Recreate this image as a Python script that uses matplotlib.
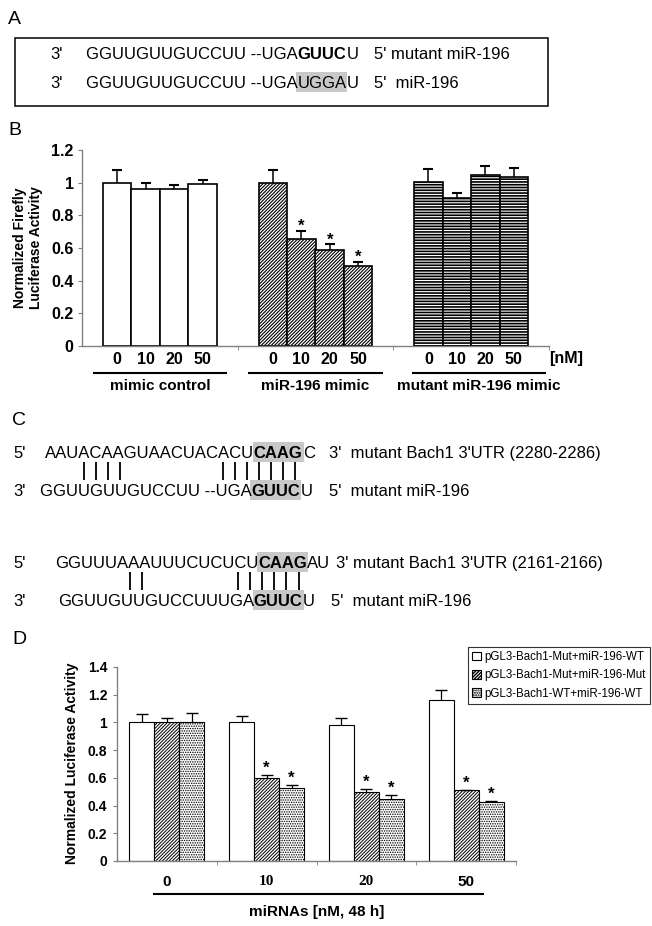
import numpy as np
import matplotlib
matplotlib.use("Agg")
import matplotlib.pyplot as plt
from matplotlib.patches import Rectangle
from matplotlib.font_manager import FontProperties, findfont, get_font

plt.rcParams["font.family"] = ["Liberation Sans", "DejaVu Sans"]
plt.rcParams["hatch.linewidth"] = 1.0

W, H = 652, 926
SHADE = "#c8c8c8"
GREY = "#808080"

# ---- panel A / C sequences: (text, bold, shaded) runs ----
a_mut = [("GGUUGUUGUCCUU --UGA", False, False), ("GUUC", True, False), ("U", False, False)]
a_wt = [("GGUUGUUGUCCUU --UGA", False, False), ("UGGA", False, True), ("U", False, False)]
c1_utr = [("AAUACAAGUAACUACACU", False, False), ("CAAG", True, True), ("C", False, False)]
c1_mir = [("GGUUGUUGUCCUU --UGA", False, False), ("GUUC", True, True), ("U", False, False)]
c2_utr = [("GGUUUAAAUUUCUCUCU", False, False), ("CAAG", True, True), ("AU", False, False)]
c2_mir = [("GGUUGUUGUCCUUUGA", False, False), ("GUUC", True, True), ("U", False, False)]
c1_pair_top = [3, 4, 5, 6, 15, 16, 17, 18, 19, 20, 21]
c1_pair_bot = [3, 4, 5, 6, 16, 17, 18, 19, 20, 21, 22]
c2_pair_top = [6, 7, 15, 16, 17, 18, 19, 20]
c2_pair_bot = [5, 6, 14, 15, 16, 17, 18, 19]

# ---- panel B ----
b_groups = ["mimic control", "miR-196 mimic", "mutant miR-196 mimic"]
b_doses = ["0", "10", "20", "50"]
b_means = [[1.00, 0.963, 0.963, 0.99],
           [1.00, 0.655, 0.586, 0.492],
           [1.006, 0.904, 1.047, 1.035]]
b_err = [[0.08, 0.037, 0.023, 0.026],
         [0.08, 0.051, 0.036, 0.024],
         [0.076, 0.033, 0.057, 0.053]]
b_star = [[0, 0, 0, 0], [0, 1, 1, 1], [0, 0, 0, 0]]

# ---- panel D ----
d_doses = ["0", "10", "20", "50"]
d_series = ["pGL3-Bach1-Mut+miR-196-WT", "pGL3-Bach1-Mut+miR-196-Mut", "pGL3-Bach1-WT+miR-196-WT"]
d_means = [[1.0, 1.0, 0.98, 1.165],
           [1.0, 0.598, 0.50, 0.509],
           [1.0, 0.526, 0.449, 0.425]]
d_err = [[0.064, 0.045, 0.055, 0.072],
         [0.035, 0.022, 0.019, 0.005],
         [0.069, 0.024, 0.029, 0.010]]
d_star = [[0, 0, 0, 0], [0, 1, 1, 1], [0, 1, 1, 1]]


def advances(text, weight, size):
    font = get_font(findfont(FontProperties(family="Liberation Sans", weight=weight)))
    font.set_size(size, 100)
    return [font.load_char(ord(ch)).linearHoriAdvance / 65536 for ch in text]


def seq_line(ax, x, y, runs, size=12):
    centers = []
    for text, bold, shaded in runs:
        weight = "bold" if bold else "normal"
        adv = advances(text, weight, size)
        x0 = x
        ax.text(x, y, text, fontsize=size, fontweight=weight, ha="left", va="baseline")
        for a in adv:
            centers.append(x + a / 2)
            x += a
        if shaded:
            ax.add_patch(Rectangle((x0 - 1, y - 16), x - x0 + 2, 20,
                                   facecolor=SHADE, edgecolor="none", zorder=0))
    return centers


def pair_bars(ax, top, bot, itop, ibot, y0, y1):
    xs = [(top[i] + bot[j]) / 2 for i, j in zip(itop, ibot)]
    ax.vlines(xs, y0, y1, color="black", lw=1.3)


def hatch_lw(patch, lw):
    if hasattr(patch, "set_hatch_linewidth"):
        patch.set_hatch_linewidth(lw)


fig = plt.figure(figsize=(W / 100, H / 100), dpi=100)
ov = fig.add_axes([0, 0, 1, 1])
ov.set_xlim(0, W)
ov.set_ylim(H, 0)
ov.axis("off")
ov.patch.set_alpha(0)

for lab, x, y in [("A", 8, 24), ("B", 8, 135), ("C", 12, 425), ("D", 12, 644)]:
    ov.text(x, y, lab, fontsize=14, ha="left", va="baseline")

# panel A
ov.add_patch(Rectangle((15, 38), 533, 68, fill=False, edgecolor="black", lw=1.1))
ov.text(50, 59, "3'", fontsize=12, va="baseline")
seq_line(ov, 86, 59, a_mut)
ov.text(374, 59, "5' mutant miR-196", fontsize=12, va="baseline")
ov.text(50, 88, "3'", fontsize=12, va="baseline")
seq_line(ov, 86, 88, a_wt)
ov.text(374, 88, "5'  miR-196", fontsize=12, va="baseline")

# panel C
ov.text(13, 458, "5'", fontsize=12, va="baseline")
t1 = seq_line(ov, 45, 458, c1_utr)
ov.text(329, 458, "3'  mutant Bach1 3'UTR (2280-2286)", fontsize=12, va="baseline")
ov.text(13, 496, "3'", fontsize=12, va="baseline")
b1 = seq_line(ov, 40, 496, c1_mir)
ov.text(329, 496, "5'  mutant miR-196", fontsize=12, va="baseline")
pair_bars(ov, t1, b1, c1_pair_top, c1_pair_bot, 462, 480)

ov.text(13, 568, "5'", fontsize=12, va="baseline")
t2 = seq_line(ov, 55, 568, c2_utr)
ov.text(336, 568, "3' mutant Bach1 3'UTR (2161-2166)", fontsize=12, va="baseline")
ov.text(13, 606, "3'", fontsize=12, va="baseline")
b2 = seq_line(ov, 58, 606, c2_mir)
ov.text(331, 606, "5'  mutant miR-196", fontsize=12, va="baseline")
pair_bars(ov, t2, b2, c2_pair_top, c2_pair_bot, 572, 590)

# panel B
axB = fig.add_axes([82 / W, 1 - 346 / H, (549 - 82) / W, (346 - 150) / H])
axB.set_facecolor("none")
wB = 0.183
b_hatches = [None, "//////////", "------"]
b_hlw = [1.0, 0.8, 1.2]
xsB = []
for g in range(len(b_groups)):
    xs = g + (np.arange(len(b_doses)) - 1.5) * wB
    xsB.extend(xs)
    bars = axB.bar(xs, b_means[g], wB, facecolor="white", edgecolor="black",
                   lw=1.2, hatch=b_hatches[g], zorder=2)
    for p in bars:
        hatch_lw(p, b_hlw[g])
    tops = np.array(b_means[g]) + np.array(b_err[g])
    axB.vlines(xs, b_means[g], tops, color="black", lw=1.1, zorder=1)
    axB.plot(xs, tops, ls="none", marker="_", ms=7.5, mew=1.5, color="black", zorder=3)
    for x, t, s in zip(xs, tops, b_star[g]):
        if s:
            axB.text(x, t, "*", ha="center", va="baseline", fontsize=12, fontweight="bold")
axB.set_xlim(-0.5, 2.5)
axB.set_ylim(0, 1.2)
axB.set_xticks(xsB)
axB.set_xticklabels(b_doses * len(b_groups), fontsize=11.5, fontweight="bold")
axB.set_xticks([0.5, 1.5, 2.5], minor=True)
yt = np.arange(0, 1.21, 0.2)
axB.set_yticks(yt)
axB.set_yticklabels([f"{v:g}" for v in yt], fontsize=11.5, fontweight="bold")
axB.tick_params(axis="x", which="major", length=0, pad=4)
axB.tick_params(axis="x", which="minor", length=3, color=GREY, direction="out")
axB.tick_params(axis="y", length=3, color=GREY, direction="out", pad=3)
for s in ["top", "right"]:
    axB.spines[s].set_visible(False)
for s in ["left", "bottom"]:
    axB.spines[s].set_color(GREY)
    axB.spines[s].set_linewidth(1.0)
trB = matplotlib.transforms.blended_transform_factory(axB.transData, axB.transAxes)
b_label_shift = [0, 0, 0.05]
for g, name in enumerate(b_groups):
    c = g + b_label_shift[g]
    axB.plot([c - 0.425, c + 0.425], [-0.138, -0.138], color="black", lw=1.5,
             transform=trB, clip_on=False)
    axB.text(c, -0.204, name, transform=trB, ha="center", va="center",
             fontsize=11, fontweight="bold")
ov.text(549, 363, "[nM]", fontsize=11.5, fontweight="bold", va="baseline")
ov.text(28, 248, "Normalized Firefly\nLuciferase Activity", rotation=90, ha="center",
        va="center", fontsize=10, fontweight="bold", multialignment="center", linespacing=1.1)

# panel D
axD = fig.add_axes([117 / W, 1 - 861 / H, (516 - 117) / W, (861 - 667) / H])
axD.set_facecolor("none")
wD = 0.25
d_hatches = [None, "//////////", "......."]
handles = []
for s in range(len(d_series)):
    xs = np.arange(len(d_doses)) + (s - 1) * wD
    bars = axD.bar(xs, d_means[s], wD, facecolor="white", edgecolor="black",
                   lw=0.8, hatch=d_hatches[s], zorder=2, label=d_series[s])
    for p in bars:
        hatch_lw(p, 0.7)
    handles.append(bars)
    tops = np.array(d_means[s]) + np.array(d_err[s])
    axD.vlines(xs, d_means[s], tops, color="black", lw=0.9, zorder=1)
    axD.plot(xs, tops, ls="none", marker="_", ms=8, mew=1.0, color="black", zorder=3)
    for x, t, st in zip(xs, tops, d_star[s]):
        if st:
            axD.annotate("*", (x, t), xytext=(0, 1.5), textcoords="offset points",
                         ha="center", va="baseline", fontsize=12, fontweight="bold")
axD.set_xlim(-0.5, 3.5)
axD.set_ylim(0, 1.4)
axD.set_xticks(np.arange(len(d_doses)))
axD.set_xticklabels(d_doses, fontsize=11, fontweight="bold")
for lab in axD.get_xticklabels():
    if lab.get_text() in ("10", "20"):
        lab.set_fontfamily("Liberation Serif")
axD.set_xticks([0.5, 1.5, 2.5, 3.5], minor=True)
yt = np.arange(0, 1.41, 0.2)
axD.set_yticks(yt)
axD.set_yticklabels([f"{v:g}" for v in yt], fontsize=10, fontweight="bold")
axD.tick_params(axis="x", which="major", length=0, pad=10)
axD.tick_params(axis="x", which="minor", length=3, color=GREY, direction="out")
axD.tick_params(axis="y", length=3, color=GREY, direction="out", pad=4)
for s in ["top", "right"]:
    axD.spines[s].set_visible(False)
for s in ["left", "bottom"]:
    axD.spines[s].set_color(GREY)
    axD.spines[s].set_linewidth(1.0)
axD.plot([0.093, 0.917], [-0.17, -0.17], color="black", lw=1.5,
         transform=axD.transAxes, clip_on=False)
axD.text(0.5, -0.263, "miRNAs [nM, 48 h]", transform=axD.transAxes, ha="center",
         va="center", fontsize=11, fontweight="bold")
ov.text(72, 763, "Normalized Luciferase Activity", rotation=90, ha="center",
        va="center", fontsize=10, fontweight="bold")
leg = fig.legend(handles, d_series, loc="upper left",
                 bbox_to_anchor=(468 / W, 1 - 647 / H), fontsize=8.3,
                 frameon=True, fancybox=False, edgecolor="black",
                 handlelength=0.75, handleheight=0.75, handletextpad=0.35,
                 borderpad=0.35, labelspacing=0.55, borderaxespad=0)
leg.get_frame().set_linewidth(0.8)

fig.savefig("out.png", dpi=100)
